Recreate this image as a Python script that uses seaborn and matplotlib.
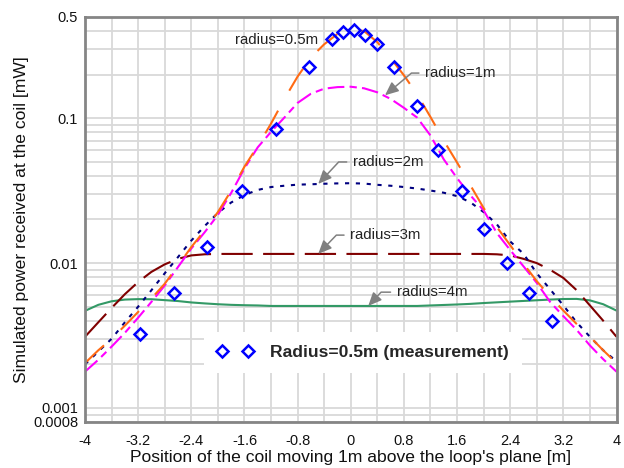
import numpy as np
import pandas as pd
import matplotlib
matplotlib.use("Agg")
import matplotlib.pyplot as plt
import seaborn as sns
from matplotlib.lines import Line2D
from matplotlib.ticker import FixedLocator, FixedFormatter, LogLocator, NullFormatter, MultipleLocator

# ---------------- data ----------------
x_pos = [-4.0, -3.8, -3.6, -3.4, -3.2, -3.0, -2.8, -2.6, -2.4, -2.2, -2.0,
         -1.8, -1.6, -1.4, -1.2, -1.0, -0.8, -0.6, -0.4, -0.2, 0.0,
         0.2, 0.4, 0.6, 0.8, 1.0, 1.2, 1.4, 1.6, 1.8, 2.0,
         2.2, 2.4, 2.6, 2.8, 3.0, 3.2, 3.4, 3.6, 3.8, 4.0]

p_r05 = [0.00204, 0.0025, 0.0030, 0.0037, 0.0046, 0.0057, 0.0072, 0.0096, 0.0129, 0.0168, 0.0225,
         0.0316, 0.0463, 0.0644, 0.0918, 0.1355, 0.194, 0.262, 0.324, 0.382, 0.412,
         0.400, 0.335, 0.260, 0.198, 0.146, 0.102, 0.070, 0.0495, 0.0345, 0.0240,
         0.0177, 0.0133, 0.0099, 0.0075, 0.0059, 0.0047, 0.0038, 0.0031, 0.0025, 0.00204]

p_r1 = [0.00178, 0.00215, 0.00265, 0.0033, 0.0042, 0.0054, 0.0070, 0.0094, 0.0126, 0.0163, 0.0215,
        0.0305, 0.0450, 0.063, 0.0805, 0.101, 0.1276, 0.1476, 0.160, 0.164, 0.165,
        0.161, 0.151, 0.136, 0.118, 0.101, 0.076, 0.052, 0.0386, 0.0294, 0.0231,
        0.0161, 0.0123, 0.0095, 0.0073, 0.0054, 0.0043, 0.00346, 0.0027, 0.00217, 0.00178]

p_r2 = [0.0020, 0.00245, 0.0030, 0.0039, 0.0050, 0.0065, 0.0085, 0.0110, 0.0143, 0.0180, 0.0222,
        0.0262, 0.0295, 0.0320, 0.0335, 0.0342, 0.0348, 0.0350, 0.0353, 0.0355, 0.0356,
        0.0354, 0.0347, 0.0342, 0.0335, 0.0327, 0.0317, 0.0306, 0.0290, 0.0263, 0.0225,
        0.0185, 0.0141, 0.0116, 0.0085, 0.0066, 0.0051, 0.0039, 0.0031, 0.0025, 0.0021]

p_r3 = [0.0031, 0.0039, 0.0049, 0.0061, 0.0074, 0.0087, 0.0098, 0.0107, 0.0113, 0.0115, 0.01157,
        0.01157, 0.01157, 0.01157, 0.01157, 0.01157, 0.01157, 0.01157, 0.01157, 0.01157, 0.01157,
        0.01157, 0.01157, 0.01157, 0.01157, 0.01157, 0.01157, 0.01157, 0.01157, 0.01157, 0.01157,
        0.0115, 0.0113, 0.0107, 0.0100, 0.0090, 0.0079, 0.0065, 0.0051, 0.0040, 0.0031]

p_r4 = [0.00468, 0.00515, 0.00545, 0.00560, 0.00564, 0.00563, 0.00555, 0.00547, 0.00535, 0.00527, 0.00520,
        0.00515, 0.00512, 0.00510, 0.00506, 0.00506, 0.00506, 0.00506, 0.00506, 0.00506, 0.00506,
        0.00506, 0.00506, 0.00506, 0.00506, 0.00506, 0.00510, 0.00514, 0.00518, 0.00523, 0.00530,
        0.00536, 0.00542, 0.00548, 0.00554, 0.00560, 0.00565, 0.00566, 0.00553, 0.00520, 0.00470]

meas_x = [-3.17, -2.66, -2.16, -1.64, -1.13, -0.625, -0.28, -0.11, 0.05, 0.22, 0.40,
          0.65, 0.99, 1.32, 1.67, 2.00, 2.35, 2.69, 3.03]
meas_p = [0.00325, 0.0062, 0.0130, 0.0313, 0.0848, 0.226, 0.351, 0.394, 0.405, 0.378, 0.327,
          0.226, 0.121, 0.0600, 0.0313, 0.0172, 0.0100, 0.0062, 0.0040]

x_ticks = [-4, -3.2, -2.4, -1.6, -0.8, 0, 0.8, 1.6, 2.4, 3.2, 4]
x_ticklabels = ["-4", "-3.2", "-2.4", "-1.6", "-0.8", "0", "0.8", "1.6", "2.4", "3.2", "4"]
y_ticks = [0.0008, 0.001, 0.01, 0.1, 0.5]
y_ticklabels = ["0.0008", "0.001", "0.01", "0.1", "0.5"]

series_names = ["radius=4m", "radius=3m", "radius=2m", "radius=1m", "radius=0.5m"]
legend_label = "Radius=0.5m (measurement)"
x_label = "Position of the coil moving 1m above the loop's plane [m]"
y_label = "Simulated power received at the coil [mW]"

# ---------------- plotting ----------------
sns.set_theme(style="white")
plt.rcParams["font.family"] = ["Liberation Sans", "DejaVu Sans"]

fig = plt.figure(figsize=(6.24, 4.68), dpi=100)
ax = fig.add_axes([0.1362, 0.0983, 0.8518, 0.8654])

curves = {
    "radius=4m": (p_r4, "#339966", "-"),
    "radius=3m": (p_r3, "#800000", (0, (15, 5))),
    "radius=2m": (p_r2, "#000080", (0, (2, 3.2))),
    "radius=1m": (p_r1, "#ff00ff", (0, (8, 2.5, 3.5, 2.5))),
    "radius=0.5m": (p_r05, "#ff6a13", (0, (12.5, 11))),
}
for name in series_names:
    vals, col, ls = curves[name]
    df = pd.DataFrame({"x": x_pos, "p": vals})
    sns.lineplot(data=df, x="x", y="p", color=col, linestyle=ls, lw=1.5, ax=ax,
                 legend=False, sort=False)

dfm = pd.DataFrame({"x": meas_x, "p": meas_p})
sns.lineplot(data=dfm, x="x", y="p", linestyle="none", marker="D", markersize=6,
             markerfacecolor="none", markeredgecolor="#0000ff", markeredgewidth=1.8,
             ax=ax, legend=False, sort=False, zorder=5)

ax.set_yscale("log")
ax.set_xlim(-4, 4)
ax.set_ylim(0.0008, 0.5)

ax.xaxis.set_major_locator(FixedLocator(x_ticks))
ax.xaxis.set_major_formatter(FixedFormatter(x_ticklabels))
ax.xaxis.set_minor_locator(MultipleLocator(0.4))
ax.yaxis.set_major_locator(FixedLocator(y_ticks))
ax.yaxis.set_major_formatter(FixedFormatter(y_ticklabels))
ax.yaxis.set_minor_locator(LogLocator(base=10, subs=np.arange(2, 10)))
ax.yaxis.set_minor_formatter(NullFormatter())

ax.set_axisbelow(True)
ax.grid(which="both", color="#d9d9d9", lw=1.3)
ax.tick_params(which="both", length=0, labelsize=10.5, colors="#111111")
ax.tick_params(axis="x", pad=9)
ax.tick_params(axis="y", pad=5)
for s in ax.spines.values():
    s.set_color("#858585")
    s.set_linewidth(2)

ax.set_xlabel(x_label, fontsize=12.6, labelpad=1, color="#111111")
ax.set_ylabel(y_label, fontsize=12.6, labelpad=3, color="#111111")

# annotations
ax.text(-1.743, 0.345, "radius=0.5m", fontsize=10.8, ha="left", va="center", color="#222222")
annos = [
    ("radius=1m", (0.515, 0.144), (1.117, 0.205), 40),
    ("radius=2m", (-0.49, 0.0352), (0.03, 0.0499), 47),
    ("radius=3m", (-0.49, 0.01157), (-0.01, 0.0156), 46),
    ("radius=4m", (0.263, 0.00506), (0.69, 0.0063), 47),
]
for txt, tip, tpos, ang in annos:
    ax.annotate(txt, xy=tip, xytext=tpos, fontsize=10.8, ha="left", va="center", color="#222222",
                arrowprops=dict(arrowstyle="-|>,head_length=0.75,head_width=0.33",
                                color="#808080", lw=1.1, shrinkA=2, shrinkB=0,
                                connectionstyle="angle,angleA=0,angleB=%d,rad=0" % ang))

h = Line2D([], [], marker="D", ls="none", mfc="none", mec="#0000ff", ms=6, mew=1.8)
leg = ax.legend(handles=[h], labels=[legend_label], numpoints=2, loc="center",
                bbox_to_anchor=(0.523, 0.1716), prop={"weight": "bold", "size": 12.6},
                frameon=True, fancybox=False, framealpha=1, edgecolor="white",
                facecolor="white", handlelength=2.1, handletextpad=0.95, borderpad=0.75)
leg.get_frame().set_linewidth(0)

fig.savefig("out.png", dpi=100)
